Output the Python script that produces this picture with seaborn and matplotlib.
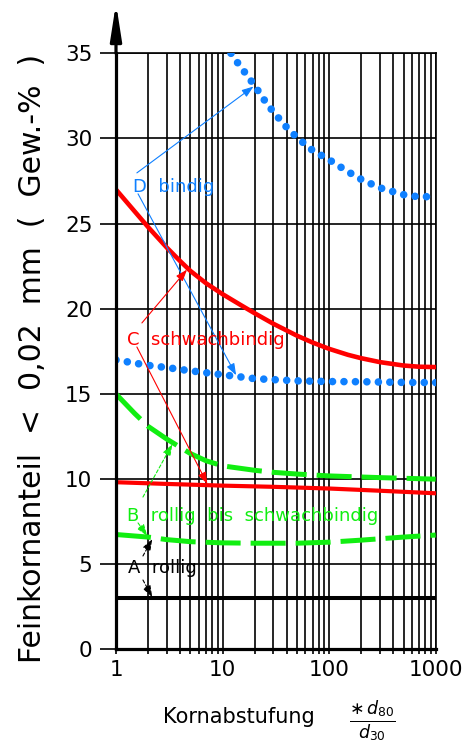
import numpy as np
import matplotlib
matplotlib.use("Agg")
import matplotlib.pyplot as plt
import seaborn as sns
from matplotlib.ticker import FixedLocator, NullFormatter

# ---------------- data ----------------
d_upper_x = [12, 14, 17, 20, 25, 30, 40, 50, 70, 100, 150, 200, 300, 500, 700, 1000]
d_upper_y = [35.0, 34.4, 33.7, 33.1, 32.2, 31.55, 30.65, 30.05, 29.3, 28.75, 28.05, 27.6, 27.1, 26.7, 26.57, 26.6]

d_lower_x = [1, 2, 3, 5, 10, 20, 50, 100, 200, 500, 1000]
d_lower_y = [17.0, 16.68, 16.55, 16.36, 16.13, 15.9, 15.77, 15.73, 15.72, 15.68, 15.67]

c_upper_x = [1, 1.5, 2, 3, 4, 5, 7, 10, 15, 20, 30, 50, 70, 100, 150, 200, 300, 500, 700, 1000]
c_upper_y = [27.0, 25.71, 24.8, 23.59, 22.8, 22.22, 21.5, 20.86, 20.2, 19.74, 19.12, 18.42, 18.02, 17.65,
             17.3, 17.1, 16.87, 16.67, 16.6, 16.58]

c_lower_x = [1, 3, 10, 30, 100, 300, 1000]
c_lower_y = [9.82, 9.72, 9.62, 9.55, 9.45, 9.32, 9.17]

b_upper_x = [1, 1.5, 2, 3, 5, 7, 10, 20, 30, 50, 100, 300, 1000]
b_upper_y = [15.0, 13.85, 13.1, 12.35, 11.5, 11.08, 10.78, 10.52, 10.4, 10.3, 10.19, 10.09, 10.0]

b_lower_x = [1, 2, 3, 5, 10, 20, 50, 100, 200, 300, 500, 1000]
b_lower_y = [6.75, 6.6, 6.45, 6.33, 6.26, 6.24, 6.24, 6.3, 6.42, 6.5, 6.6, 6.72]

a_x = [1, 1000]
a_y = [3.0, 3.0]

y_ticks = [0, 5, 10, 15, 20, 25, 30, 35]
x_major = [1, 10, 100, 1000]
x_labels = ["1", "10", "100", "1000"]

labels = {
    "D": "D  bindig",
    "C": "C  schwachbindig",
    "B": "B  rollig  bis  schwachbindig",
    "A": "A  rollig",
}
ylabel = "Feinkornanteil  <  0,02  mm  (  Gew.-%  )"
xlabel = "Kornabstufung"
xfrac = r"$\frac{\ast\, d_{80}}{d_{30}}$"

BLUE = "#0F80FF"
RED = "#FF0000"
GREEN = "#11EE11"
BLACK = "#000000"

# ---------------- style ----------------
sns.set_theme(style="white")
plt.rcParams["font.family"] = ["DejaVu Sans"]
plt.rcParams["mathtext.fontset"] = "dejavusans"

fig = plt.figure(figsize=(4.67, 7.44), dpi=100)
ax = fig.add_axes([0.2484, 0.12702, 0.68459, 0.80134])

ax.set_xscale("log")
ax.set_xlim(1, 1000)
ax.set_ylim(0, 35)

minor = [m * 10 ** k for k in range(3) for m in range(2, 10)]
ax.xaxis.set_major_locator(FixedLocator(x_major))
ax.xaxis.set_minor_locator(FixedLocator(minor))
ax.xaxis.set_minor_formatter(NullFormatter())
ax.set_xticks(x_major, x_labels)
ax.set_yticks(y_ticks, [str(t) for t in y_ticks])

ax.set_axisbelow(True)
ax.grid(True, which="both", axis="x", color="black", lw=1.2)
ax.grid(True, which="major", axis="y", color="black", lw=1.2)

ax.tick_params(axis="y", which="major", direction="out", length=11.5, width=1.2,
               pad=5.5, labelsize=15.5, colors="black", left=True)
ax.tick_params(axis="x", which="both", direction="out", length=3.6, width=1.2,
               pad=4, labelsize=15.5, colors="black", bottom=True)

for s in ["top", "right"]:
    ax.spines[s].set_visible(True)
    ax.spines[s].set_linewidth(1.2)
    ax.spines[s].set_color("black")
for s in ["left", "bottom"]:
    ax.spines[s].set_linewidth(2.3)
    ax.spines[s].set_color("black")
    ax.spines[s].set_zorder(5)

# arrow on top of the y axis
ax.annotate("", xy=(0, 1.084), xytext=(0, 1.0), xycoords="axes fraction",
            textcoords="axes fraction", annotation_clip=False,
            arrowprops=dict(arrowstyle="-|>,head_length=1.8,head_width=0.28",
                            lw=2.3, color="black", shrinkA=0, shrinkB=0))

# ---------------- curves ----------------
dots = dict(lw=5.5, linestyle=(0, (0.001, 1.5)), dash_capstyle="round")
dash = dict(lw=3.6, linestyle=(0, (7, 2)))

sns.lineplot(x=d_upper_x, y=d_upper_y, ax=ax, color=BLUE, zorder=4, **dots)
sns.lineplot(x=d_lower_x, y=d_lower_y, ax=ax, color=BLUE, zorder=4, **dots)
sns.lineplot(x=c_upper_x, y=c_upper_y, ax=ax, color=RED, lw=3.3, zorder=4)
sns.lineplot(x=c_lower_x, y=c_lower_y, ax=ax, color=RED, lw=3.0, zorder=4)
sns.lineplot(x=b_upper_x, y=b_upper_y, ax=ax, color=GREEN, zorder=4, **dash)
sns.lineplot(x=b_lower_x, y=b_lower_y, ax=ax, color=GREEN, zorder=4, **dash)
sns.lineplot(x=a_x, y=a_y, ax=ax, color=BLACK, lw=2.9, zorder=4)


def on(xs, ys, xt):
    return float(np.interp(np.log10(xt), np.log10(xs), ys))


def arrow(start, xt, xs, ys, color, ls="-"):
    ax.annotate("", xy=(xt, on(xs, ys, xt)), xytext=start,
                arrowprops=dict(arrowstyle="-|>,head_length=0.5,head_width=0.18",
                                mutation_scale=14, lw=0.8, color=color,
                                linestyle=ls, shrinkA=0, shrinkB=1),
                zorder=6)


tfs = 13
ax.text(1.44, 26.86, labels["D"], color=BLUE, fontsize=tfs, va="baseline", ha="left", zorder=6)
arrow((1.57, 27.98), 20, d_upper_x, d_upper_y, BLUE)
arrow((1.61, 26.75), 13.6, d_lower_x, d_lower_y, BLUE)

ax.text(1.27, 17.88, labels["C"], color=RED, fontsize=tfs, va="baseline", ha="left", zorder=6)
arrow((1.75, 19.17), 4.73, c_upper_x, c_upper_y, RED)
arrow((1.57, 17.76), 7.3, c_lower_x, c_lower_y, RED)

ax.text(1.27, 7.52, labels["B"], color=GREEN, fontsize=tfs, va="baseline", ha="left", zorder=6)
arrow((1.79, 8.95), 3.43, b_upper_x, b_upper_y, GREEN, ls=(0, (3, 2)))
arrow((1.61, 7.43), 2.0, b_lower_x, b_lower_y, GREEN, ls=(0, (3, 2)))

ax.text(1.30, 4.49, labels["A"], color=BLACK, fontsize=tfs, va="baseline", ha="left", zorder=6)
arrow((1.79, 5.49), 2.22, b_lower_x, b_lower_y, BLACK, ls=(0, (3, 2)))
arrow((1.79, 4.08), 2.22, a_x, a_y, BLACK, ls=(0, (3, 2)))

# ---------------- axis titles ----------------
fig.text(33 / 467, 1 - 358.5 / 744, ylabel, rotation=90, ha="center", va="center",
         fontsize=21.5, color="black")
fig.text(163 / 467, 1 - 723 / 744, xlabel, ha="left", va="baseline", fontsize=15, color="black")
fig.text(372 / 467, 1 - 721 / 744, xfrac, ha="center", va="center", fontsize=18, color="black")

fig.savefig("out.png", dpi=100)
